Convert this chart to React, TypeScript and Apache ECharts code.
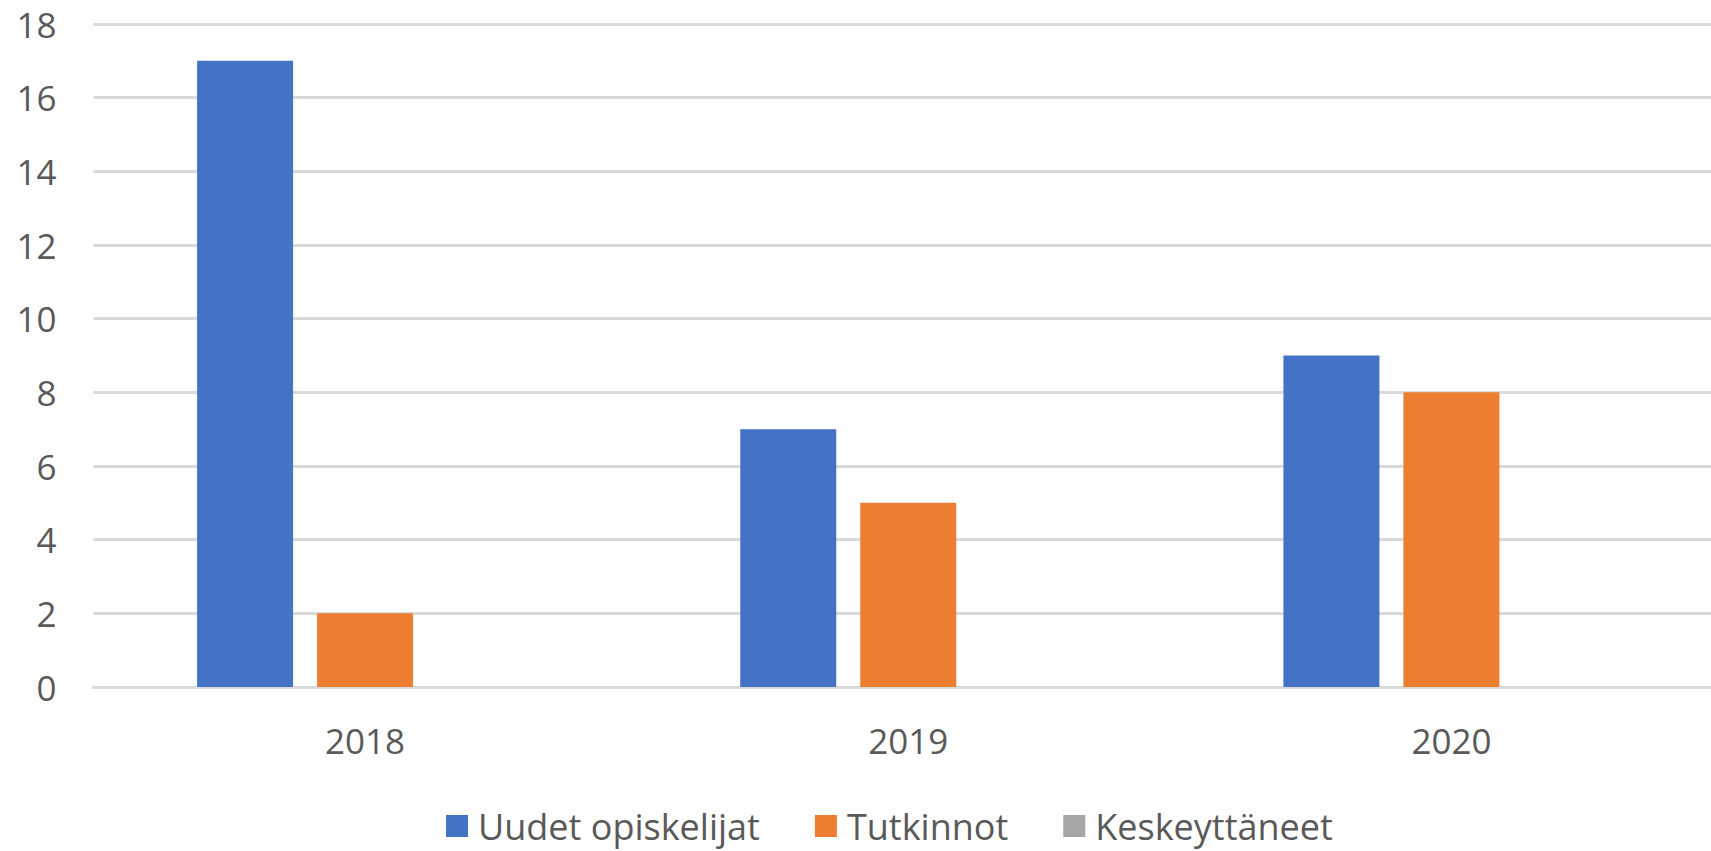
import React, { useEffect, useRef } from "react";
import * as echarts from "echarts";

const categories = ["2018", "2019", "2020"];
const seriesNames = ["Uudet opiskelijat", "Tutkinnot", "Keskeyttäneet"];
const uudetOpiskelijat = [17, 7, 9];
const tutkinnot = [2, 5, 8];
const keskeyttaneet = [0, 0, 0];
const seriesColors = ["#4472C4", "#ED7D31", "#A5A5A5"];

const FONT = "'Open Sans', 'Noto Sans', sans-serif";

export default function App() {
  const ref = useRef<HTMLDivElement>(null);
  useEffect(() => {
    if (!ref.current) return;
    const chart = echarts.init(ref.current, undefined, { renderer: "svg" });
    const values = [uudetOpiskelijat, tutkinnot, keskeyttaneet];
    chart.setOption({
      animation: false,
      backgroundColor: "#ffffff",
      textStyle: { fontFamily: FONT },
      grid: { left: 93.5, top: 24, right: 0, height: 663, containLabel: false },
      legend: {
        left: 446,
        top: 808,
        padding: 0,
        itemWidth: 22,
        itemHeight: 22,
        itemGap: 55,
        icon: "rect",
        textStyle: {
          fontFamily: FONT,
          fontSize: 36,
          lineHeight: 36,
          color: "#595959",
          padding: [0, 0, 0, 5],
        },
        data: seriesNames,
      },
      xAxis: {
        type: "category",
        data: categories,
        axisLine: { show: true, lineStyle: { color: "#D9D9D9", width: 3 } },
        axisTick: { show: false },
        axisLabel: { fontFamily: FONT, fontSize: 35, color: "#595959", margin: 36 },
      },
      yAxis: {
        type: "value",
        min: 0,
        max: 18,
        interval: 2,
        axisLine: { show: false },
        axisTick: { show: false },
        splitLine: { show: true, lineStyle: { color: "#D9D9D9", width: 3 } },
        axisLabel: { fontFamily: FONT, fontSize: 35, color: "#595959", margin: 37 },
      },
      series: seriesNames.map((name, i) => ({
        name,
        type: "bar",
        data: values[i],
        barWidth: 96,
        barGap: "25%",
        itemStyle: { color: seriesColors[i] },
      })),
    });
    return () => chart.dispose();
  }, []);
  return (
    <div
      style={{
        position: "absolute",
        left: 0,
        top: 0,
        width: 1711,
        height: 851,
        overflow: "hidden",
        background: "#ffffff",
      }}
    >
      <div ref={ref} style={{ width: 1723, height: 851 }} />
    </div>
  );
}
